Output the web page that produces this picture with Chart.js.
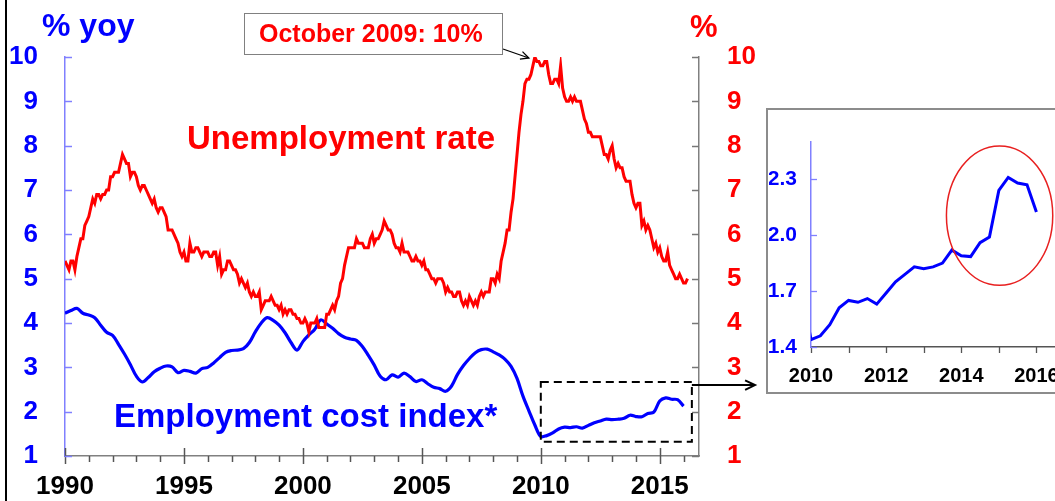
<!DOCTYPE html>
<html>
<head>
<meta charset="utf-8">
<script src="https://cdn.jsdelivr.net/npm/chart.js@4.4.0/dist/chart.umd.min.js"></script>
<style>
html,body{margin:0;padding:0;background:#fff;overflow:hidden;}
#wrap{position:relative;width:1055px;height:501px;overflow:hidden;background:#fff;font-family:"Liberation Sans",Arial,sans-serif;}
#main{position:absolute;left:0;top:0;}
.lbl{position:absolute;white-space:nowrap;font-weight:bold;line-height:1;}
#leftBorder{position:absolute;left:5px;top:0;width:2px;height:501px;background:#000;}
#insetBox{position:absolute;left:766px;top:108px;width:340px;height:282px;border:2px solid #8c8c8c;background:#fff;}
#inset{position:absolute;left:769px;top:110px;}
#annot{position:absolute;left:244px;top:13px;width:257px;height:40px;border:1.5px solid #808080;background:#fff;}
</style>
</head>
<body>
<div id="wrap">
  <canvas id="main" width="1055" height="501"></canvas>
  <div id="leftBorder"></div>
  <div id="insetBox"></div>
  <canvas id="inset" width="320" height="280"></canvas>
  <div id="annot"></div>
  <div class="lbl" style="left:259px;top:21px;font-size:25px;color:#ff0000;">October 2009: 10%</div>
  <div class="lbl" style="left:42px;top:9px;font-size:32px;color:#0000ff;">% yoy</div>
  <div class="lbl" style="left:690px;top:11px;font-size:31px;color:#ff0000;">%</div>
  <div class="lbl" style="left:187px;top:121px;font-size:33px;color:#ff0000;">Unemployment rate</div>
  <div class="lbl" style="left:114px;top:399px;font-size:33px;color:#0000ff;">Employment cost index*</div>
</div>
<script>
// ---------------- DATA ----------------
// Unemployment rate, %, monthly from Jan 1990 (right axis)
const unempStartYear = 1990;
const unemploymentRate = [
  5.4,5.3,5.2,5.4,5.4,5.2,5.5,5.7,5.9,5.9,6.2,6.3,
  6.4,6.6,6.8,6.7,6.9,6.9,6.8,6.9,6.9,7.0,7.0,7.3,
  7.3,7.4,7.4,7.4,7.6,7.8,7.7,7.6,7.6,7.3,7.4,7.4,
  7.3,7.1,7.0,7.1,7.1,7.0,6.9,6.8,6.7,6.8,6.6,6.5,
  6.6,6.6,6.5,6.4,6.1,6.1,6.1,6.0,5.9,5.8,5.6,5.5,
  5.6,5.4,5.4,5.8,5.6,5.6,5.7,5.7,5.6,5.5,5.6,5.6,
  5.6,5.5,5.5,5.6,5.6,5.3,5.5,5.1,5.2,5.2,5.4,5.4,
  5.3,5.2,5.2,5.1,4.9,5.0,4.9,4.8,4.9,4.7,4.6,4.7,
  4.6,4.6,4.7,4.3,4.4,4.5,4.5,4.5,4.6,4.5,4.4,4.4,
  4.3,4.4,4.2,4.3,4.2,4.3,4.3,4.2,4.2,4.1,4.1,4.0,
  4.0,4.1,4.0,3.8,4.0,4.0,4.0,4.1,3.9,3.9,3.9,3.9,
  4.2,4.2,4.3,4.4,4.3,4.5,4.6,4.9,5.0,5.3,5.5,5.7,
  5.7,5.7,5.7,5.9,5.8,5.8,5.8,5.7,5.7,5.7,5.9,6.0,
  5.8,5.9,5.9,6.0,6.1,6.3,6.2,6.1,6.1,6.0,5.8,5.7,
  5.7,5.6,5.8,5.6,5.6,5.6,5.5,5.4,5.4,5.5,5.4,5.4,
  5.3,5.4,5.2,5.2,5.1,5.0,5.0,4.9,5.0,5.0,5.0,4.9,
  4.7,4.8,4.7,4.7,4.6,4.6,4.7,4.7,4.5,4.4,4.5,4.4,
  4.6,4.5,4.4,4.5,4.4,4.6,4.7,4.6,4.7,4.7,4.7,5.0,
  5.0,4.9,5.1,5.0,5.4,5.6,5.8,6.1,6.1,6.5,6.8,7.3,
  7.8,8.3,8.7,9.0,9.4,9.5,9.5,9.6,9.8,10.0,9.9,9.9,
  9.8,9.8,9.9,9.9,9.6,9.4,9.4,9.5,9.5,9.4,9.8,9.3,
  9.1,9.0,9.0,9.1,9.0,9.1,9.0,9.0,9.0,8.8,8.6,8.5,
  8.3,8.3,8.2,8.2,8.2,8.2,8.2,8.0,7.8,7.8,7.7,7.9,
  8.0,7.7,7.5,7.6,7.5,7.5,7.3,7.2,7.2,7.2,6.9,6.7,
  6.6,6.7,6.7,6.2,6.3,6.1,6.2,6.1,5.9,5.7,5.8,5.6,
  5.7,5.5,5.4,5.4,5.6,5.3,5.2,5.1,5.0,5.0,5.1,5.0,
  4.9,4.9,5.0
];
// Employment cost index, % yoy, quarterly from 1990 Q1 (left axis)
const eciStartYear = 1990;
const employmentCostIndex = [
  4.22,4.28,4.33,4.22,
  4.18,4.12,3.95,3.79,
  3.72,3.52,3.30,3.06,
  2.80,2.67,2.77,2.90,
  2.98,3.03,3.01,2.88,
  2.93,2.91,2.87,2.97,
  3.00,3.10,3.22,3.34,
  3.38,3.39,3.42,3.56,
  3.80,4.00,4.12,4.06,
  3.95,3.78,3.56,3.39,
  3.58,3.73,3.86,4.07,
  3.98,3.88,3.76,3.68,
  3.64,3.61,3.47,3.27,
  3.05,2.80,2.72,2.83,
  2.78,2.87,2.79,2.68,
  2.72,2.63,2.55,2.52,
  2.46,2.58,2.84,3.04,
  3.20,3.33,3.40,3.41,
  3.35,3.28,3.18,3.02,
  2.75,2.35,2.02,1.70,
  1.44,1.46,1.52,1.61,
  1.65,1.64,1.66,1.63,
  1.69,1.75,1.79,1.83,
  1.82,1.83,1.85,1.92,
  1.89,1.885,1.96,1.99,
  2.24,2.31,2.28,2.27,
  2.125
];
const mainXTicks = [1990,1995,2000,2005,2010,2015];
const mainYTicks = [1,2,3,4,5,6,7,8,9,10];
const insetXTicks = [2010,2012,2014,2016];
const insetYTicks = [1.4,1.7,2.0,2.3];

// ---------------- BUILD ----------------
const unempPts = unemploymentRate.map((v,i)=>({x: unempStartYear + i/12, y: v}));
const eciPts = employmentCostIndex.map((v,i)=>({x: eciStartYear + i*0.25, y: v}));

const FAM = '"Liberation Sans", Arial, sans-serif';
const RED = '#ff0000', BLUE = '#0000ff';

function arrowHead(ctx, x1, y1, x2, y2, size){
  const a = Math.atan2(y2-y1, x2-x1);
  ctx.beginPath();
  ctx.moveTo(x2 - size*Math.cos(a-0.45), y2 - size*Math.sin(a-0.45));
  ctx.lineTo(x2, y2);
  ctx.lineTo(x2 - size*Math.cos(a+0.45), y2 - size*Math.sin(a+0.45));
  ctx.stroke();
}

const mainDecor = {
  id: 'mainDecor',
  afterDraw(chart){
    const ctx = chart.ctx, ca = chart.chartArea;
    const xs = chart.scales.x, yL = chart.scales.yL, yR = chart.scales.yR;
    ctx.save();
    ctx.strokeStyle = '#555'; ctx.lineWidth = 1.5;
    for (let yr = 1990; yr <= 2016; yr++){
      const px = Math.round(xs.getPixelForValue(yr)) + 0.5;
      ctx.beginPath();
      if (yr % 5 === 0){ ctx.moveTo(px, ca.bottom - 8); ctx.lineTo(px, ca.bottom + 8); }
      else { ctx.moveTo(px, ca.bottom); ctx.lineTo(px, ca.bottom + 6); }
      ctx.stroke();
    }
    ctx.strokeStyle = '#8080ff';
    mainYTicks.forEach(v=>{
      const py = Math.round(yL.getPixelForValue(v)) + 0.5;
      ctx.beginPath(); ctx.moveTo(ca.left, py); ctx.lineTo(ca.left + 7, py); ctx.stroke();
    });
    ctx.strokeStyle = '#777';
    mainYTicks.forEach(v=>{
      const py = Math.round(yR.getPixelForValue(v)) + 0.5;
      ctx.beginPath(); ctx.moveTo(ca.right - 7, py); ctx.lineTo(ca.right, py); ctx.stroke();
    });
    const rx1 = xs.getPixelForValue(2010), rx2 = xs.getPixelForValue(2016.35);
    const ry1 = yL.getPixelForValue(2.67), ry2 = yL.getPixelForValue(1.32);
    ctx.strokeStyle = '#000'; ctx.lineWidth = 2; ctx.setLineDash([8,5]);
    ctx.strokeRect(rx1, ry1, rx2 - rx1, ry2 - ry1);
    ctx.setLineDash([]);
    const ay = yL.getPixelForValue(2.6);
    ctx.beginPath(); ctx.moveTo(rx2, ay); ctx.lineTo(755, ay); ctx.stroke();
    arrowHead(ctx, rx2, ay, 755, ay, 11);
    const tx = xs.getPixelForValue(2009.75) - 6, ty = yR.getPixelForValue(10) + 1;
    ctx.lineWidth = 1.3;
    ctx.beginPath(); ctx.moveTo(503, 49); ctx.lineTo(tx, ty); ctx.stroke();
    arrowHead(ctx, 503, 49, tx, ty, 9);
    ctx.restore();
  }
};

new Chart(document.getElementById('main'), {
  type: 'line',
  data: {
    datasets: [
      {label:'Unemployment rate', data: unempPts, yAxisID:'yR', borderColor: RED, borderWidth: 3, pointRadius: 0, tension: 0, fill: false},
      {label:'Employment cost index*', data: eciPts, yAxisID:'yL', borderColor: BLUE, borderWidth: 3.2, pointRadius: 0, tension: 0.35, fill: false}
    ]
  },
  options: {
    responsive: false, animation: false, devicePixelRatio: 1,
    layout: {padding: {left: 0, right: 0, top: 57, bottom: 0}},
    plugins: {legend: {display: false}, tooltip: {enabled: false}},
    scales: {
      x: {
        type: 'linear', min: 1990, max: 2016.65, position: 'bottom',
        afterBuildTicks: s => { s.ticks = mainXTicks.map(v=>({value: v})); },
        ticks: {color: '#000', font: {family: FAM, size: 26, weight: 'bold'}, padding: 15, maxRotation: 0, autoSkip: false, callback: v => String(v)},
        grid: {display: false, drawTicks: false},
        border: {display: true, color: '#808080', width: 1.5},
        afterFit: s => { s.height = 45; }
      },
      yL: {
        type: 'linear', position: 'left', min: 1, max: 10,
        afterBuildTicks: s => { s.ticks = mainYTicks.map(v=>({value: v})); },
        ticks: {color: BLUE, font: {family: FAM, size: 26, weight: 'bold'}, padding: 27, callback: v => String(v)},
        grid: {display: false, drawTicks: false},
        border: {display: true, color: '#8080ff', width: 1.5},
        afterFit: s => { s.width = 65; }
      },
      yR: {
        type: 'linear', position: 'right', min: 1, max: 10,
        afterBuildTicks: s => { s.ticks = mainYTicks.map(v=>({value: v})); },
        ticks: {color: RED, font: {family: FAM, size: 26, weight: 'bold'}, padding: 28, callback: v => String(v)},
        grid: {display: false, drawTicks: false},
        border: {display: true, color: '#808080', width: 1.5},
        afterFit: s => { s.width = 356; }
      }
    }
  },
  plugins: [mainDecor]
});

const insetDecor = {
  id: 'insetDecor',
  afterDraw(chart){
    const ctx = chart.ctx, ca = chart.chartArea;
    const xs = chart.scales.x, ys = chart.scales.y;
    ctx.save();
    ctx.strokeStyle = '#555'; ctx.lineWidth = 1.3;
    for (let yr = 2010; yr <= 2017; yr++){
      const px = Math.round(xs.getPixelForValue(yr)) + 0.5;
      ctx.beginPath(); ctx.moveTo(px, ca.bottom); ctx.lineTo(px, ca.bottom + 6); ctx.stroke();
    }
    ctx.strokeStyle = '#8080ff';
    insetYTicks.forEach(v=>{
      const py = Math.round(ys.getPixelForValue(v)) + 0.5;
      ctx.beginPath(); ctx.moveTo(ca.left, py); ctx.lineTo(ca.left + 6, py); ctx.stroke();
    });
    const cx = xs.getPixelForValue(2015.02), cy = ys.getPixelForValue(2.105);
    const erx = xs.getPixelForValue(2016.435) - cx, ery = cy - ys.getPixelForValue(2.479);
    ctx.strokeStyle = '#e82020'; ctx.lineWidth = 1.5;
    ctx.beginPath(); ctx.ellipse(cx, cy, erx, ery, 0, 0, Math.PI*2); ctx.stroke();
    ctx.restore();
  }
};

// inset canvas: left 769, top 110; chart area left 811 -> 42, top 142 -> 32, bottom 347 -> 237
new Chart(document.getElementById('inset'), {
  type: 'line',
  data: {datasets: [{data: eciPts, borderColor: BLUE, borderWidth: 3, pointRadius: 0, tension: 0, fill: false}]},
  options: {
    responsive: false, animation: false, devicePixelRatio: 1,
    layout: {autoPadding: false, padding: {left: 0, right: 0, top: 32, bottom: 0}},
    plugins: {legend: {display: false}, tooltip: {enabled: false}},
    scales: {
      x: {
        type: 'linear', min: 2010, max: 2017.4,
        afterBuildTicks: s => { s.ticks = insetXTicks.map(v=>({value: v})); },
        ticks: {color: '#000', font: {family: FAM, size: 20, weight: 'bold'}, padding: 17, maxRotation: 0, autoSkip: false, callback: v => String(v)},
        grid: {display: false, drawTicks: false},
        border: {display: true, color: '#555', width: 1.5},
        afterFit: s => { s.height = 43; }
      },
      y: {
        type: 'linear', min: 1.4, max: 2.5,
        afterBuildTicks: s => { s.ticks = insetYTicks.map(v=>({value: v})); },
        ticks: {color: BLUE, font: {family: FAM, size: 21, weight: 'bold'}, padding: 14, callback: v => Number(v).toFixed(1)},
        grid: {display: false, drawTicks: false},
        border: {display: true, color: '#8080ff', width: 1.5},
        afterFit: s => { s.width = 42; }
      }
    }
  },
  plugins: [insetDecor]
});
</script>
</body>
</html>
